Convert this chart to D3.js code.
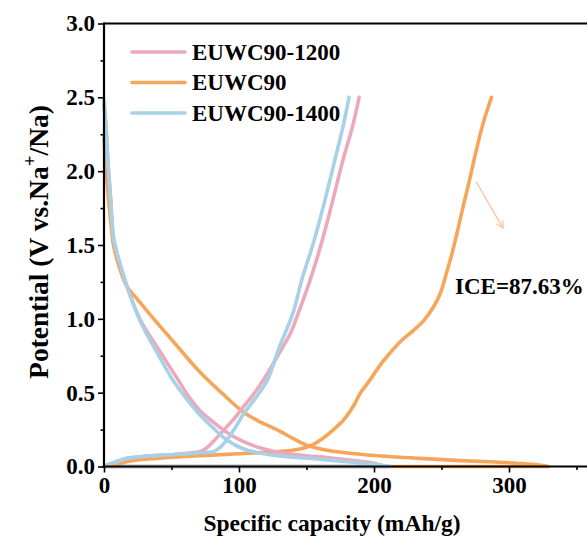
<!DOCTYPE html>
<html>
<head>
<meta charset="utf-8">
<script src="https://cdn.jsdelivr.net/npm/d3@7"></script>
<style>
  html, body { margin: 0; padding: 0; background: #fff; }
  svg { display: block; }
  text { font-family: "Liberation Serif", "Times New Roman", serif; font-weight: bold; fill: #000; }
</style>
</head>
<body>
<svg id="chart" width="587" height="542"></svg>
<script>
// ---------- data ----------
const seriesNames = ["EUWC90-1200", "EUWC90", "EUWC90-1400"];
const seriesColors = ["#EBA9BB", "#F5A65A", "#A8D0E7"];

// EUWC90-1200 (pink)
const pinkDisCap = [0, 1.5, 3, 5, 7, 11, 17, 27, 40, 55, 63, 71, 81, 91, 103, 116, 130, 145, 165, 182, 198, 209];
const pinkDisV   = [2.45, 2.3, 2.05, 1.8, 1.55, 1.4, 1.22, 0.99, 0.8, 0.585, 0.47, 0.38, 0.3, 0.23, 0.17, 0.125, 0.095, 0.078, 0.06, 0.044, 0.025, 0];
const pinkChCap  = [0, 5, 10, 17, 25, 35, 50, 62, 71, 76, 82, 91, 97, 103, 110, 118, 130, 138, 144, 152.6, 161, 168, 177, 184, 189];
const pinkChV    = [0, 0.02, 0.035, 0.055, 0.065, 0.072, 0.08, 0.09, 0.1, 0.125, 0.18, 0.27, 0.33, 0.4, 0.48, 0.585, 0.77, 0.9, 1.04, 1.26, 1.51, 1.75, 2.075, 2.3, 2.5];

// EUWC90 (orange)
const orDisCap = [0, 1, 2.5, 4.5, 7, 11, 17, 25, 34, 50, 71, 87, 103, 116, 128, 140, 150, 165, 182, 200, 234, 264, 290, 310, 322, 329];
const orDisV   = [2.22, 2.1, 1.9, 1.7, 1.5, 1.36, 1.22, 1.13, 1.03, 0.86, 0.64, 0.5, 0.37, 0.3, 0.25, 0.19, 0.145, 0.11, 0.09, 0.075, 0.055, 0.04, 0.03, 0.02, 0.01, 0];
const orChCap  = [6, 12, 18, 25, 35, 46, 60, 80, 96, 112, 128, 138, 146, 154, 162, 170, 177, 182, 186, 190, 197, 204, 212, 220, 229, 237, 244, 249, 254, 258, 262, 266, 271, 276, 281, 287];
const orChV    = [0, 0.02, 0.035, 0.045, 0.052, 0.06, 0.068, 0.077, 0.085, 0.092, 0.1, 0.108, 0.12, 0.145, 0.19, 0.25, 0.31, 0.37, 0.43, 0.5, 0.585, 0.68, 0.77, 0.85, 0.92, 0.99, 1.08, 1.17, 1.32, 1.45, 1.6, 1.76, 1.95, 2.15, 2.33, 2.5];

// EUWC90-1400 (blue)
const blueDisCap = [0, 1.5, 3, 5, 7, 11, 17, 27, 40, 51, 61, 71, 81, 91, 103, 116, 130, 145, 165, 182, 200, 212];
const blueDisV   = [2.48, 2.3, 2.05, 1.8, 1.55, 1.4, 1.22, 0.98, 0.76, 0.585, 0.46, 0.35, 0.26, 0.18, 0.12, 0.09, 0.072, 0.06, 0.045, 0.03, 0.015, 0];
const blueChCap  = [0, 5, 10, 17, 25, 35, 50, 65, 75, 81, 86, 91, 97, 103, 112, 121, 130, 140, 147, 155, 163, 171, 177, 181.5];
const blueChV    = [0, 0.02, 0.035, 0.055, 0.065, 0.072, 0.08, 0.088, 0.095, 0.1, 0.13, 0.18, 0.26, 0.35, 0.46, 0.585, 0.81, 1.04, 1.28, 1.51, 1.78, 2.075, 2.3, 2.5];

const xTicksMajor = [0, 100, 200, 300];
const xTicksMinor = [50, 150, 250, 350];
const yTicksMajor = [0, 0.5, 1.0, 1.5, 2.0, 2.5, 3.0];
const yTicksMinor = [0.25, 0.75, 1.25, 1.75, 2.25, 2.75];

const xTitle = "Specific capacity (mAh/g)";
const annotationText = "ICE=87.63%";
const arrowFrom = [275.6, 1.93];
const arrowTo = [295.6, 1.615];
const annotationPos = [260, 1.168];

// ---------- layout ----------
const svg = d3.select("#chart");
const x = d3.scaleLinear().domain([0, 400]).range([104, 644]);
const y = d3.scaleLinear().domain([0, 3]).range([466.5, 23.5]);

svg.append("rect").attr("width", 587).attr("height", 542).attr("fill", "#fff");

const zip = (a, b) => a.map((v, i) => [v, b[i]]);
const series = [
  { name: seriesNames[1], color: seriesColors[1], dis: zip(orDisCap, orDisV), ch: zip(orChCap, orChV) },
  { name: seriesNames[0], color: seriesColors[0], dis: zip(pinkDisCap, pinkDisV), ch: zip(pinkChCap, pinkChV) },
  { name: seriesNames[2], color: seriesColors[2], dis: zip(blueDisCap, blueDisV), ch: zip(blueChCap, blueChV) }
];

const line = d3.line().x(d => x(d[0])).y(d => y(d[1])).curve(d3.curveCatmullRom.alpha(0.5));
const straight = d3.line().x(d => x(d[0])).y(d => y(d[1]));

const gLines = svg.append("g");
series.forEach(s => {
  const endCap = s.dis[s.dis.length - 1][0];
  gLines.append("path").attr("d", straight([[endCap, 0], [0, 0]]))
    .attr("fill", "none").attr("stroke", s.color).attr("stroke-width", 3.6);
});
series.forEach(s => {
  [s.dis, s.ch].forEach(pts => {
    gLines.append("path").attr("d", line(pts))
      .attr("fill", "none").attr("stroke", s.color).attr("stroke-width", 3.6)
      .attr("stroke-linejoin", "round").attr("stroke-linecap", "round");
  });
});

// ---------- axes ----------
const xAxis = d3.axisBottom(x).tickValues(xTicksMajor).tickSize(6).tickPadding(4).tickFormat(d3.format("d"));
const gx = svg.append("g").attr("transform", `translate(0,${y(0)})`).call(xAxis);
gx.select(".domain").remove();
gx.selectAll(".tick line").attr("stroke", "#000").attr("stroke-width", 1.6);
gx.selectAll(".tick text").attr("font-size", 23).attr("font-family", "Liberation Serif").attr("font-weight", "bold").attr("fill", "#000");
const xAxisMinor = d3.axisBottom(x).tickValues(xTicksMinor).tickSize(3.5).tickFormat("");
const gxm = svg.append("g").attr("transform", `translate(0,${y(0)})`).call(xAxisMinor);
gxm.select(".domain").remove();
gxm.selectAll(".tick line").attr("stroke", "#000").attr("stroke-width", 1.6);

const yAxis = d3.axisLeft(y).tickValues(yTicksMajor).tickSize(6).tickPadding(3).tickFormat(d3.format(".1f"));
const gy = svg.append("g").attr("transform", `translate(${x(0)},0)`).call(yAxis);
gy.select(".domain").remove();
gy.selectAll(".tick line").attr("stroke", "#000").attr("stroke-width", 1.6);
gy.selectAll(".tick text").attr("font-size", 23).attr("font-family", "Liberation Serif").attr("font-weight", "bold").attr("fill", "#000");
const yAxisMinor = d3.axisLeft(y).tickValues(yTicksMinor).tickSize(3.5).tickFormat("");
const gym = svg.append("g").attr("transform", `translate(${x(0)},0)`).call(yAxisMinor);
gym.select(".domain").remove();
gym.selectAll(".tick line").attr("stroke", "#000").attr("stroke-width", 1.6);

// frame lines
const frame = svg.append("g").attr("stroke", "#000").attr("stroke-width", 2.2).attr("fill", "none");
frame.append("line").attr("x1", x(0)).attr("x2", x(400)).attr("y1", y(0)).attr("y2", y(0));
frame.append("line").attr("x1", x(0)).attr("x2", x(400)).attr("y1", y(3)).attr("y2", y(3));
frame.append("line").attr("x1", x(0)).attr("x2", x(0)).attr("y1", y(0) + 1).attr("y2", y(3) - 1);

// ---------- titles ----------
svg.append("text").attr("x", 332).attr("y", 531).attr("text-anchor", "middle")
  .attr("font-size", 23.5).text(xTitle);

const yt = svg.append("text").attr("transform", "translate(48,242) rotate(-90)")
  .attr("text-anchor", "middle").attr("font-size", 27.5);
yt.append("tspan").text("Potential (V vs.Na");
yt.append("tspan").attr("font-size", 19).attr("dy", -12).text("+");
yt.append("tspan").attr("dy", 12).text("/Na)");

// ---------- legend ----------
const legendOrder = [0, 1, 2];
const lg = svg.append("g");
legendOrder.forEach((k, i) => {
  const cy = 52 + i * 30.5;
  lg.append("line").attr("x1", 132).attr("x2", 185).attr("y1", cy).attr("y2", cy)
    .attr("stroke", seriesColors[k]).attr("stroke-width", 3.6).attr("stroke-linecap", "round");
  lg.append("text").attr("x", 192).attr("y", cy + 7.8).attr("font-size", 23).text(seriesNames[k]);
});

// ---------- annotation ----------
svg.append("defs").append("marker").attr("id", "ah").attr("viewBox", "0 0 10 10")
  .attr("refX", 9).attr("refY", 5).attr("markerWidth", 6).attr("markerHeight", 6)
  .attr("orient", "auto").append("path").attr("d", "M1,1 L9,5 L1,9").attr("fill", "none")
  .attr("stroke", "#F7CBAA").attr("stroke-width", 1.6);
svg.append("line").attr("x1", x(arrowFrom[0])).attr("y1", y(arrowFrom[1]))
  .attr("x2", x(arrowTo[0])).attr("y2", y(arrowTo[1]))
  .attr("stroke", "#F7CBAA").attr("stroke-width", 1.5).attr("marker-end", "url(#ah)");
svg.append("text").attr("x", x(annotationPos[0])).attr("y", y(annotationPos[1]))
  .attr("font-size", 23).text(annotationText);
</script>
</body>
</html>
